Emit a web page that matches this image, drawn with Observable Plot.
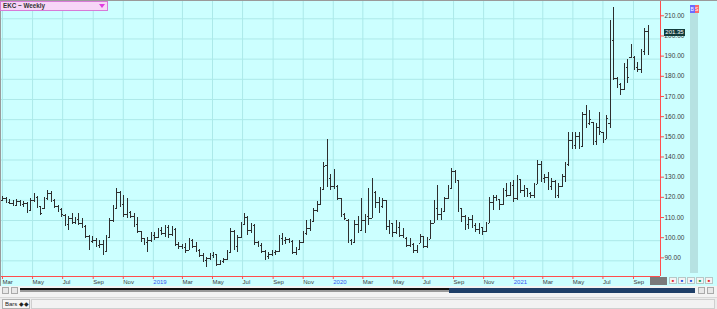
<!DOCTYPE html>
<html><head><meta charset="utf-8">
<script src="https://cdn.jsdelivr.net/npm/d3@7"></script>
<script src="https://cdn.jsdelivr.net/npm/@observablehq/plot@0.6"></script>
<style>
html,body{margin:0;padding:0;}
body{width:717px;height:309px;overflow:hidden;background:#ccffff;font-family:"Liberation Sans",Arial,sans-serif;}
#wrap{position:relative;width:717px;height:309px;overflow:hidden;}
#chart{position:absolute;left:0;top:0;}
.abs{position:absolute;box-sizing:border-box;}
#title{left:0;top:1px;width:108px;height:10px;background:#f7d6f7;border:1px solid #d77ad7;font-size:6.3px;font-weight:bold;color:#333;line-height:8px;padding-left:2px;}
#title .arr{position:absolute;right:2px;top:2px;width:0;height:0;border-left:3px solid transparent;border-right:3px solid transparent;border-top:4px solid #e03ce0;}
#topline{left:0;top:0;width:717px;height:1px;background:#9a9a9a;}
#leftline{left:0;top:0;width:1px;height:286px;background:#9a9a9a;}
#strip{left:690px;top:13px;width:8px;height:260px;background:#b6e2e2;}
#bs{left:690px;top:5px;width:9px;height:8px;font-size:5px;line-height:8px;color:#fff;}
#bs span{display:inline-block;width:4.5px;height:8px;text-align:center;}
#price{height:7px;width:21px;left:664px;background:#123c3c;color:#fff;font-size:6px;line-height:7px;text-align:center;}
#corner{left:650px;top:277px;width:17px;height:8px;background:#7a7a7a;}
.btn{top:277px;width:8px;height:7px;background:#f4f4f4;border:1px solid #b8c8c8;font-size:4px;line-height:5px;text-align:center;}
#scroll{left:0;top:286px;width:717px;height:11px;background:#f3f3f3;}
.sbtn{top:287px;width:7px;height:7px;background:#e8e8e8;border:1px solid #aaa;}
#blk{left:20px;top:288px;width:430px;height:2px;background:#111;}
#blkg{left:20px;top:290px;width:430px;height:2px;background:#9a9a9a;}
#blue{left:449px;top:288px;width:246px;height:5px;background:#1f3f68;}
#panel{left:0;top:297px;width:717px;height:12px;background:#ececec;border-top:1px solid #d8d8d8;}
#tab{left:2px;top:299px;width:28px;height:10px;background:#f6f6f6;border:1px solid #b0b0b0;font-size:6px;line-height:8px;padding-left:2px;color:#222;}
#box{left:31px;top:299px;width:684px;height:10px;background:#f2f2f2;border:1px solid #cfcfcf;}
</style></head>
<body><div id="wrap"></div>
<script>
// ---- data: weekly bars (week ending Friday), first week 2018-03-02 ----
const firstWeek = "2018-03-02";
const lastWeek = "2021-10-01";
const open = [
120,121,119,118.5,117.5,119.5,118,118.5,115,120,
121.5,117,116,121,123.5,120,117,115.5,112.5,108,
111,109,110.5,108.5,107,102,99.5,100,97.5,98,
94.5,101.5,110,116,124,118,113,114,112,108,
104.5,101,99,100,102.5,101.5,105,103.5,106.5,103,
105.5,98,97,96.5,95,100,97,95,92.5,90,
91,92.5,93,88,89.5,90.5,94,104.5,97,101.5,
108,111.5,105,107.5,99,97.5,94.5,92,93,94,
94.5,101,100,100.5,99.5,94,95.5,99,103.5,106,
109.5,115,118,125.5,137.5,131,127,127,121,113,
110,100,99,108,105,110,112,111,124,119,
117,120,107,108.5,104,106.5,102.5,101,97.5,98,
95,98.5,102,97,100.5,108.5,116,113,114.5,121,
126,134.5,130,116,112,108,110.5,107.5,105.5,106.5,
104.5,108.5,119,121.5,120.5,118,125,122.5,127.5,121,
130.5,125,126,123.5,122.5,128,138,131,131.5,127,
129.5,122.5,127,132,138,149.5,147,151.5,146.5,162.5,
158,158.5,149,156,153.5,150,158,199,180.5,177.5,
175,186,191,191,186,185,194,203.5];
const high = [
122,121.5,120.5,120,120.5,120,119.5,119,121,123.5,
122,117,121.5,125,124.5,120.5,117.5,116,113,112,
113.5,111.5,113.5,111,107.5,102.5,102,101,100,100,
102.5,111,117.5,126,124.5,122.5,121,114.5,113.5,111.5,
104.5,101,101.5,104,104,106,106.5,107.5,107.5,107,
106,99,98,98.5,101,100.5,99,95.5,93.5,91.7,
93.5,94,93,90,91,95,106,105,102.5,109,
113.5,112,108.5,108,99.5,98.5,95,94,95,95,
102.5,103.5,101.5,101,100,96.5,100,104.5,110,110.5,
116,119.5,126.5,139,150.2,133,135.5,127.5,121,113.5,
110.5,100.5,110,112,121,113,126,131,124.5,121.5,
121,120,110,108.5,110,109,106,101.5,101,98.5,
97.5,103,102,101.5,110,120,127.5,116,121.5,127.5,
136,135,130,116,112.5,111.5,112.5,108.5,108.5,106.5,
109,121.5,122.5,122.5,120.5,126,128.5,129,130,132.5,
130.5,127.5,126,124,128.5,139.8,139.5,133,134,131,
130,128.5,133,139,153.5,153.5,153.5,153.5,163.5,167,
164.5,158.5,158,163.5,153.5,162,209,215.5,181,178,
188,190,197.5,191.5,188.5,195,205,206.5];
const low = [
119.5,118.5,118,117,117,117,116.5,113.5,114.5,119,
116,112.5,115.5,120,119,116,114,111.5,107,105,
108,108,107.5,106,101,95,98.5,96.5,96,92.6,
94,101,109,115.5,116.5,111.5,111,111,106.5,103.5,
99,97.5,94.3,99,100,101,102.5,101.5,101,102,
97,95.5,95.5,93.5,95,96,94,91.5,89,86.8,
90,91,87,87.5,88.5,90,93.5,95,94,101,
107.5,102.5,103.5,97.5,96.5,93.5,90.2,90.5,92,92.7,
94,97.5,98,98.5,93,92.7,95,98.5,102.5,104.5,
109,114,117.5,125,126.5,125,125.5,120,111.5,110,
98.5,97.5,98.5,103.5,104.5,103.5,107.5,111,116,113.5,
116,105,103,101.5,103,101.5,101,96.5,96.5,93.5,
93.5,98.5,96,96,100.5,108.5,110,110,114,120.5,
125.5,128.5,114,109,105,105.5,106,104,103,102.5,
104,108.5,115,119.5,115,117.5,121.5,122,119,120,
123.5,121.5,121.5,121,121,128,129,128.5,125,125,
121,121,126.5,129,137,145,145,145,146,155.5,
157,147,147,152,148,150,155.5,179.5,175.5,172,
174.5,178,190.5,184.5,183.5,183,192,192];
const close = [
121,119,118.5,117.5,119.5,118,118.5,115,120,121.5,
117,113.5,121,123.5,120,117,115.5,113,108,111,
109,110.5,108.5,107,102,99.5,100,97.5,98,94,
101.5,110,116,124,118,113,114,112,108,104.5,
101,99,100,102.5,101.5,105,103.5,106.5,103,105.5,
98,97,96.5,95,100,97,95,92.5,90,91,
92.5,93,88,89.5,90.5,94,104.5,97,101.5,108,
111.5,105,107.5,99,97.5,94.5,92,93,94,94.5,
101,100,100.5,99.5,94,95.5,99,103.5,106,109.5,
115,118,125.5,137,131,127,133,121,113,111,
100,99,108,105,110,112,111,124,119,117,
120,107,108.5,104,106.5,102.5,103.5,97.5,98,95,
96.5,102,97,100.5,108.5,116,113,114.5,121,126,
134.5,130,116,112,108,110.5,107.5,105.5,106.5,104.5,
108.5,119,121.5,120.5,118,125,122.5,127.5,121,130.5,
125,126,123.5,122.5,128,138,131,131.5,127,129.5,
122.5,127,132,138,149.5,147,151.5,146.5,162.5,158,
160,149,156,154,150,160.5,190,180.5,177.5,175,
186,181,197,186,185,194,203.5,201.35];
const yTicks = [90,100,110,120,130,140,150,160,170,180,190,200,210];
const monthTicks = ["2018-03-01","2018-05-01","2018-07-01","2018-09-01","2018-11-01",
  "2019-03-01","2019-05-01","2019-07-01","2019-09-01","2019-11-01",
  "2020-03-01","2020-05-01","2020-07-01","2020-09-01","2020-11-01",
  "2021-03-01","2021-05-01","2021-07-01","2021-09-01"];
const yearTicks = ["2019-01-01","2020-01-01","2021-01-01"];
const titleText = "EKC ~ Weekly";

// ---- build ----
const dates = d3.utcFriday.range(new Date(firstWeek + "T00:00Z"), d3.utcDay.offset(new Date(lastWeek + "T00:00Z"), 1));
const bars = dates.map((date, i) => ({date, open: open[i], high: high[i], low: low[i], close: close[i]}));
const mTicks = monthTicks.map(s => new Date(s + "T00:00Z"));
const yrTicks = yearTicks.map(s => new Date(s + "T00:00Z"));
const xDomain = [new Date(Date.UTC(2018,1,24,22,40)), new Date(Date.UTC(2021,9,25,18,43))];
const yDomain = [82.24, 219.07];
const red = "#ff4d4d", grid = "#ace9e9", barCol = "#2e2e2e", txt = "#3c3c3c";
const tick = 3; // days for open/close tick length

const chart = Plot.plot({
  width: 717, height: 288,
  marginTop: 0, marginBottom: 12, marginLeft: 0, marginRight: 57,
  style: {background: "#ccffff", fontFamily: "Liberation Sans, Arial, sans-serif", overflow: "visible"},
  x: {type: "utc", domain: xDomain},
  y: {domain: yDomain},
  marks: [
    Plot.gridY(yTicks, {stroke: grid, strokeOpacity: 1}),
    Plot.gridX(mTicks.concat(yrTicks), {stroke: grid, strokeOpacity: 1}),
    Plot.ruleX(bars, {x: "date", y1: "low", y2: "high", stroke: barCol, strokeWidth: 1, shapeRendering: "crispEdges"}),
    Plot.ruleY(bars, {y: "open", x1: d => d3.utcDay.offset(d.date, -tick), x2: "date", stroke: barCol, shapeRendering: "crispEdges"}),
    Plot.ruleY(bars, {y: "close", x1: "date", x2: d => d3.utcDay.offset(d.date, tick), stroke: barCol, shapeRendering: "crispEdges"}),
    Plot.axisY({ticks: yTicks, anchor: "right", tickSize: 3, tickPadding: 1, tickFormat: d => d.toFixed(2), color: txt, stroke: red, fontSize: 6.5, dy: -3, label: null}),
    Plot.axisX({ticks: mTicks, anchor: "bottom", tickSize: 3, tickPadding: 0, tickFormat: d3.utcFormat("%b"), color: txt, stroke: red, fontSize: 6, textAnchor: "start", dx: 0, label: null}),
    Plot.axisX({ticks: yrTicks, anchor: "bottom", tickSize: 3, tickPadding: 0, tickFormat: d3.utcFormat("%Y"), color: "#3557f0", stroke: red, fontSize: 6, textAnchor: "start", dx: 0, label: null}),
    Plot.ruleX([xDomain[1]], {stroke: red}),
    Plot.ruleY([yDomain[0]], {stroke: red})
  ]
});
chart.id = "chart";
const wrap = document.getElementById("wrap");
wrap.appendChild(chart);

function add(id, cls, html) { const d = document.createElement("div"); if (id) d.id = id; d.className = "abs" + (cls ? " " + cls : ""); if (html) d.innerHTML = html; wrap.appendChild(d); return d; }
add("topline"); add("leftline");
add("title", "", titleText + '<span class="arr"></span>');
add("strip");
add("bs", "", '<span style="background:#6c6cff">B</span><span style="background:#ff6a6a">S</span>');
const last = bars[bars.length - 1];
const py = chart.scale("y").apply(last.close);
const price = add("price", "", last.close.toFixed(2));
price.style.top = (py - 7) + "px";
add("corner");
const btnCols = ["#e03030","#2050e0","#2050e0","#20a040","#e03030"];
[669, 678, 687, 696, 705].forEach((x, i) => { const b = add(null, "btn", '<span style="color:' + btnCols[i] + '">&#9632;</span>'); b.style.left = x + "px"; });
add("scroll");
[2, 11].forEach(x => { const b = add(null, "sbtn"); b.style.left = x + "px"; });
add("blkg"); add("blk"); add("blue");
[698, 707].forEach(x => { const b = add(null, "sbtn"); b.style.left = x + "px"; });
add("panel");
add("tab", "", "Bars &#9670;&#9670;");
add("box");
</script></body></html>
